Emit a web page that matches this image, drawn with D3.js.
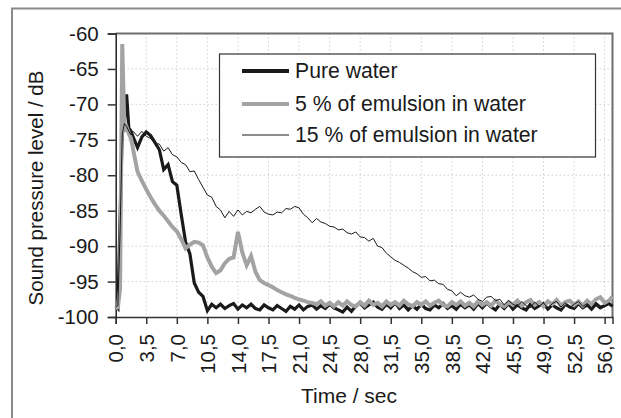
<!DOCTYPE html>
<html>
<head>
<meta charset="utf-8">
<script src="https://cdn.jsdelivr.net/npm/d3@7"></script>
<style>
  body { margin: 0; background: #fff; }
  svg { display: block; font-family: "Liberation Sans", Arial, sans-serif; }
</style>
</head>
<body>
<div id="chart"></div>
<script>
// time grid (sec): finer steps over the initial peak, then every 0.5 s
var timeHead = [0, 0.25, 0.5, 0.75, 1, 1.25, 1.5, 1.75];
var time = timeHead.concat(d3.range(2, 56.75, 0.5), [56.9]);

var pureWater = [
  -98.5, -98.8, -86.0, -73.6, -72.2, -68.6, -73.3, -73.8, -74.6, -76.1,
  -74.6, -73.9, -74.4, -75.4, -76.4, -79.2, -78.5, -80.9, -81.4, -85.5,
  -89.4, -91.1, -95.2, -96.5, -97.1, -99.1, -98.2, -98.7, -98.2, -98.8,
  -98.4, -98.1, -98.9, -98.3, -98.7, -98.2, -98.8, -99.0, -98.3, -98.7,
  -99.0, -98.4, -98.8, -99.2, -98.5, -98.9, -98.3, -99.0, -98.5, -98.3,
  -98.9, -98.4, -98.8, -98.2, -98.7, -99.0, -99.3, -98.6, -99.2, -98.4,
  -98.0, -98.7, -98.3, -97.9, -98.6, -98.9, -98.2, -98.7, -98.0, -98.8,
  -98.3, -99.0, -98.4, -98.9, -98.2, -98.8, -99.0, -98.3, -98.7, -98.1,
  -98.8, -98.4, -98.9, -98.2, -98.7, -98.3, -98.9, -98.1, -98.7, -98.0,
  -98.6, -99.0, -98.2, -98.8, -98.1, -98.9, -98.3, -98.7, -99.0, -98.2,
  -98.8, -98.4, -98.1, -98.9, -98.3, -98.7, -99.0, -98.2, -98.6, -98.8,
  -98.1, -98.7, -98.3, -98.9, -98.2, -98.7, -98.4, -98.1, -98.5
];

var emulsion5 = [
  -98.8, -98.6, -96.0, -61.5, -73.6, -73.2, -74.1, -74.8, -76.4, -79.5,
  -80.8, -82.0, -83.1, -84.1, -85.0, -85.7, -86.5, -87.3, -87.9, -89.0,
  -90.3, -89.8, -89.4, -89.5, -89.9, -91.6, -92.9, -93.8, -93.4, -92.4,
  -91.8, -91.6, -88.0, -90.9, -92.7, -91.4, -93.6, -94.8, -95.2, -95.5,
  -95.8, -96.2, -96.5, -96.8, -97.0, -97.3, -97.5, -97.7, -97.9, -98.0,
  -98.2, -97.8, -98.4, -98.0, -98.5, -97.9, -98.4, -97.8, -98.3, -98.5,
  -97.9, -98.4, -97.7, -98.3, -98.0, -98.5, -97.8, -98.3, -97.9, -98.4,
  -97.7, -98.2, -98.5, -97.9, -98.3, -97.8, -98.4, -98.0, -97.7, -98.3,
  -98.5, -97.9, -98.3, -97.8, -98.4, -98.0, -98.5, -97.8, -98.3, -97.9,
  -98.4, -97.7, -98.2, -98.5, -97.9, -98.3, -97.7, -98.4, -97.9, -97.6,
  -98.3, -97.9, -98.5, -97.8, -98.2, -97.6, -98.4, -97.9, -97.7, -98.3,
  -97.8, -98.4, -97.7, -98.2, -97.5, -97.2, -98.0, -97.7, -97.1
];

var emulsion15 = [
  -98.5, -98.4, -88.0, -74.2, -72.7, -73.1, -73.8, -74.3, -73.8, -74.5,
  -73.8, -74.5, -74.8, -75.5, -75.6, -76.6, -76.1, -77.1, -77.4, -78.2,
  -78.5, -79.5, -79.4, -80.6, -81.7, -82.8, -83.1, -84.4, -84.9, -86.0,
  -85.1, -85.8, -84.9, -85.6, -85.1, -85.3, -84.8, -84.4, -85.2, -85.5,
  -85.6, -85.2, -85.3, -84.7, -84.8, -84.4, -84.6, -85.5, -86.0, -86.7,
  -86.1, -86.6, -86.8, -87.2, -87.3, -87.7, -87.6, -88.1, -88.3, -88.0,
  -88.7, -88.8, -89.3, -88.9, -90.0, -90.2, -91.0, -91.5, -92.0, -92.3,
  -92.7, -93.1, -93.6, -93.9, -94.4, -94.3, -94.9, -94.8, -95.3, -95.4,
  -96.1, -96.3, -97.0, -96.5, -97.0, -97.2, -96.9, -97.5, -97.8, -97.2,
  -97.1, -97.7, -97.5, -98.3, -97.7, -98.2, -98.5, -97.8, -98.4, -98.7,
  -97.9, -98.5, -98.0, -98.8, -98.1, -97.8, -98.6, -98.0, -98.7, -98.2,
  -97.8, -98.5, -98.1, -98.7, -97.9, -98.4, -98.6, -98.0, -98.3
];

var seriesNames = ["Pure water", "5 % of emulsion in water", "15 % of emulsion in water"];
var xTicks = [0, 3.5, 7, 10.5, 14, 17.5, 21, 24.5, 28, 31.5, 35, 38.5, 42, 45.5, 49, 52.5, 56];
var yTicks = [-100, -95, -90, -85, -80, -75, -70, -65, -60];

var W = 621, H = 418;
var plotL = 115.7, plotR = 612.5, plotT = 33.5, plotB = 317;
var fontSize = 20.5;

var svg = d3.select("#chart").append("svg")
  .attr("width", W)
  .attr("height", H);

// outer frame
svg.append("rect")
  .attr("x", 12).attr("y", 8.5)
  .attr("width", 700).attr("height", 500)
  .attr("fill", "none")
  .attr("stroke", "#8a8a8a")
  .attr("stroke-width", 2);

var x = d3.scaleLinear().domain([0, 56.9]).range([plotL, plotR]);
var y = d3.scaleLinear().domain([-100, -60]).range([plotB, plotT]);

// dotted grid
svg.append("g").selectAll("line")
  .data(xTicks.slice(1))
  .enter().append("line")
  .attr("x1", function(d) { return x(d); })
  .attr("x2", function(d) { return x(d); })
  .attr("y1", plotT).attr("y2", plotB)
  .attr("stroke", "#b8b8b8")
  .attr("stroke-dasharray", "1,3");

svg.append("g").selectAll("line")
  .data(yTicks.slice(1, -1))
  .enter().append("line")
  .attr("x1", plotL).attr("x2", plotR)
  .attr("y1", function(d) { return y(d); })
  .attr("y2", function(d) { return y(d); })
  .attr("stroke", "#b8b8b8")
  .attr("stroke-dasharray", "1,3");

// plot border (top + right)
svg.append("path")
  .attr("d", "M" + plotL + "," + plotT + "H" + plotR + "V" + plotB)
  .attr("fill", "none")
  .attr("stroke", "#6e6e6e")
  .attr("stroke-width", 2);

// axes
var fmtX = function(d) { return d3.format(".1f")(d).replace(".", ","); };

var xAxis = svg.append("g")
  .attr("transform", "translate(0," + plotB + ")")
  .call(d3.axisBottom(x).tickValues(xTicks).tickSize(7).tickFormat(fmtX));
xAxis.select(".domain").attr("stroke", "#333").attr("stroke-width", 1.5);
xAxis.selectAll(".tick line").attr("stroke", "#333").attr("stroke-width", 1.5);
xAxis.selectAll("text")
  .attr("transform", "rotate(-90)")
  .attr("x", -17).attr("y", 0)
  .attr("dy", "0.35em")
  .attr("text-anchor", "end")
  .attr("font-size", fontSize)
  .attr("font-family", "Liberation Sans, Arial, sans-serif")
  .attr("fill", "#1a1a1a");

var yAxis = svg.append("g")
  .attr("transform", "translate(" + plotL + ",0)")
  .call(d3.axisLeft(y).tickValues(yTicks).tickSize(8).tickPadding(9)
    .tickFormat(function(d) { return String(d); }));
yAxis.select(".domain").attr("stroke", "#222").attr("stroke-width", 1.5);
yAxis.selectAll(".tick line").attr("stroke", "#333").attr("stroke-width", 1.5);
yAxis.selectAll("text")
  .attr("font-size", fontSize)
  .attr("font-family", "Liberation Sans, Arial, sans-serif")
  .attr("fill", "#1a1a1a");

// series
var line = d3.line()
  .x(function(d) { return x(d[0]); })
  .y(function(d) { return y(d[1]); });

var series = [
  { name: seriesNames[0], values: pureWater, color: "#1a1a1a", width: 3.2 },
  { name: seriesNames[1], values: emulsion5, color: "#a3a3a3", width: 4 },
  { name: seriesNames[2], values: emulsion15, color: "#1a1a1a", width: 1 }
];

series.forEach(function(s) {
  svg.append("path")
    .datum(d3.zip(time, s.values))
    .attr("d", line)
    .attr("fill", "none")
    .attr("stroke", s.color)
    .attr("stroke-width", s.width)
    .attr("stroke-linejoin", "miter");
});

// legend
var legend = svg.append("g");
legend.append("rect")
  .attr("x", 219.5).attr("y", 54)
  .attr("width", 376).attr("height", 103)
  .attr("fill", "#fff")
  .attr("stroke", "#333")
  .attr("stroke-width", 1.2);

var rows = [71, 104, 135];
series.forEach(function(s, i) {
  legend.append("line")
    .attr("x1", 242).attr("x2", 289)
    .attr("y1", rows[i]).attr("y2", rows[i])
    .attr("stroke", s.color)
    .attr("stroke-width", i === 2 ? 1 : 4);
  legend.append("text")
    .attr("x", 295).attr("y", rows[i] + 7)
    .attr("font-size", 21.2)
    .attr("fill", "#1a1a1a")
    .text(s.name);
});

// axis titles
svg.append("text")
  .attr("transform", "translate(43,188) rotate(-90)")
  .attr("text-anchor", "middle")
  .attr("font-size", fontSize)
  .attr("fill", "#1a1a1a")
  .text("Sound pressure level / dB");

svg.append("text")
  .attr("x", 349).attr("y", 403)
  .attr("text-anchor", "middle")
  .attr("font-size", 21)
  .attr("fill", "#1a1a1a")
  .text("Time / sec");
</script>
</body>
</html>
